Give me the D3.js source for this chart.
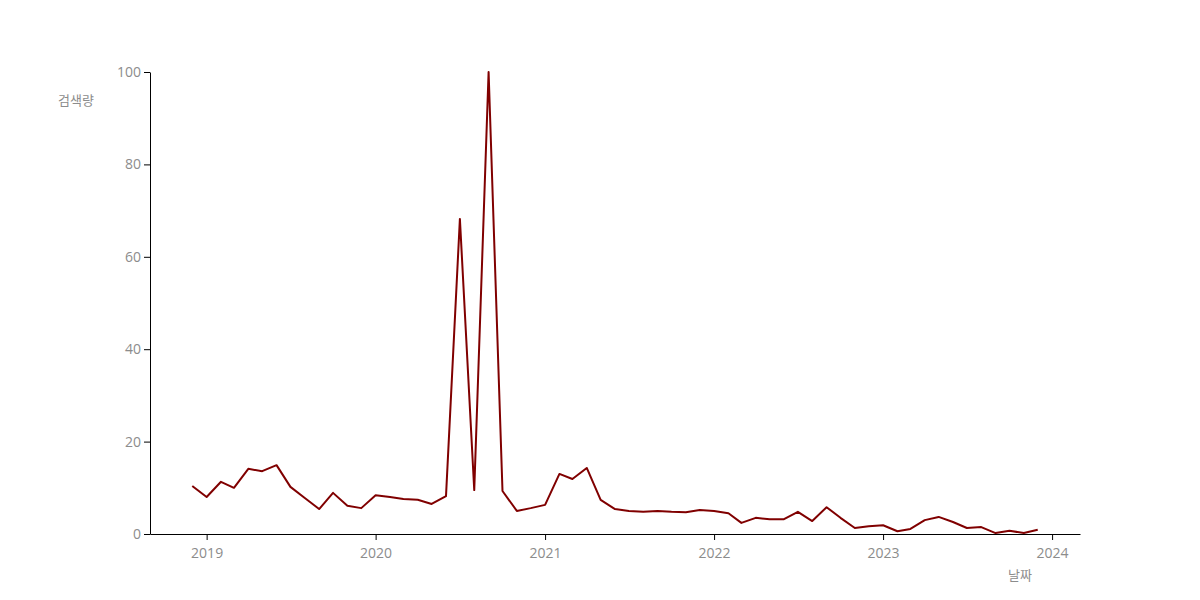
<!DOCTYPE html>
<html>
<head>
<meta charset="utf-8">
<script src="https://cdn.jsdelivr.net/npm/d3@7"></script>
<style>
body { margin: 0; background: #fff; }
.axis text { fill: #8c8c8c; font-family: "Open Sans", "Noto Sans CJK KR", sans-serif; font-size: 14px; }
.axis path, .axis line { stroke: #000; }
.lbl { fill: #8c8c8c; font-family: "Noto Sans CJK KR", sans-serif; font-size: 13px; }
</style>
</head>
<body>
<script>
// 월별 검색량 (2018-12 ~ 2023-12)
var months = d3.timeMonths(new Date(2018, 11, 1), new Date(2024, 0, 1));
var volume = [
  10.4, 8.0, 11.3, 10.0, 14.1, 13.6, 14.9, 10.2, 7.8, 5.4, 8.9, 6.1, 5.6,
  8.4, 8.0, 7.6, 7.4, 6.5, 8.2, 68.2, 9.5, 100, 9.3, 5.0, 5.6,
  6.3, 13.0, 11.9, 14.3, 7.4, 5.4, 5.0, 4.8, 5.0, 4.8, 4.7, 5.2,
  5.0, 4.5, 2.4, 3.5, 3.2, 3.2, 4.8, 2.8, 5.8, 3.5, 1.3, 1.7,
  1.9, 0.6, 1.1, 3.0, 3.7, 2.6, 1.3, 1.5, 0.2, 0.7, 0.2, 0.9
];
var yTicks = [0, 20, 40, 60, 80, 100];

var data = months.map(function(m, i) { return {date: m, value: volume[i]}; });

var width = 1200, height = 600;
var margin = {top: 72, right: 120, bottom: 66, left: 150};

var svg = d3.select("body").append("svg")
  .attr("width", width)
  .attr("height", height);

var ext = d3.extent(months);
var pad = (ext[1] - ext[0]) * 0.05;

var x = d3.scaleTime()
  .domain([new Date(+ext[0] - pad), new Date(+ext[1] + pad)])
  .range([margin.left, width - margin.right]);

var y = d3.scaleLinear()
  .domain([0, 100])
  .range([height - margin.bottom, margin.top]);

svg.append("g")
  .attr("class", "axis")
  .attr("transform", "translate(0," + (height - margin.bottom) + ")")
  .call(d3.axisBottom(x).ticks(d3.timeYear.every(1)).tickFormat(d3.timeFormat("%Y")).tickSizeOuter(0))
  .selectAll("text").attr("dy", "1.05em");

svg.append("g")
  .attr("class", "axis")
  .attr("transform", "translate(" + margin.left + ",0)")
  .call(d3.axisLeft(y).tickValues(yTicks).tickSizeOuter(0));

svg.append("path")
  .datum(data)
  .attr("fill", "none")
  .attr("stroke", "#800000")
  .attr("stroke-width", 2)
  .attr("stroke-linejoin", "round")
  .attr("d", d3.line()
    .x(function(d) { return x(d.date); })
    .y(function(d) { return y(d.value); }));

svg.append("text")
  .attr("class", "lbl")
  .attr("x", 76)
  .attr("y", 105)
  .attr("text-anchor", "middle")
  .text("검색량");

svg.append("text")
  .attr("class", "lbl")
  .attr("x", 1020)
  .attr("y", 580)
  .attr("text-anchor", "middle")
  .text("날짜");
</script>
</body>
</html>
